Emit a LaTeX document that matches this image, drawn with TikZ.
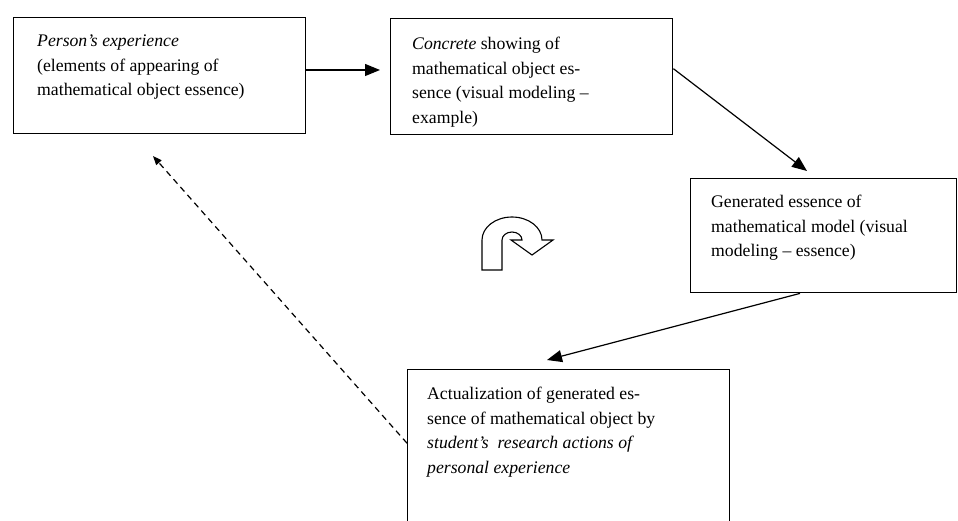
\documentclass[tikz,border=0pt]{standalone}
\usepackage{fontspec}
\setmainfont{Liberation Serif}
\usetikzlibrary{arrows.meta}
\begin{document}
\begin{tikzpicture}[x=1pt,y=-1pt,
    box/.style={draw,line width=1.4pt,anchor=north west,inner sep=0pt},
    txt/.style={anchor=north west,inner sep=0pt,align=left,font=\fontsize{17.7}{24.5}\selectfont},
    arr/.style={line width=1.2pt,-{Triangle[length=15pt,width=12pt]}},
    back/.style={line width=1.2pt,dash pattern=on 6pt off 4.5pt,-{Triangle[length=9pt,width=7pt]}}]
    \useasboundingbox (0,0) rectangle (958,521);
    % boxes
    \node[box,minimum width=292pt,minimum height=116pt] (b1) at (13,17) {};
    \node[box,minimum width=282pt,minimum height=116pt] (b2) at (390,18) {};
    \node[box,minimum width=266pt,minimum height=114pt] (b3) at (690,178) {};
    \node[box,minimum width=322pt,minimum height=175pt] (b4) at (407,369) {};
    \node[txt] (t1) at ([shift={(24pt,-18pt)}]b1.north west) {\textit{Person’s experience}\\(elements of appearing of\\mathematical object essence)};
    \node[txt] (t2) at ([shift={(22pt,-19pt)}]b2.north west) {\textit{Concrete} showing of\\mathematical object es-\\sence (visual modeling --\\example)};
    \node[txt] (t3) at ([shift={(21pt,-17pt)}]b3.north west) {Generated essence of\\mathematical model (visual\\modeling -- essence)};
    \node[txt] (t4) at ([shift={(20pt,-18pt)}]b4.north west) {Actualization of generated es-\\sence of mathematical object by\\\textit{student’s\ \ research actions of}\\\textit{personal experience}};
    % arrows
    \coordinate (e1) at (380,70);
    \coordinate (e2) at (807,171);
    \coordinate (e3) at (547,360);
    \coordinate (e4) at (153,156);
    \draw[arr] (b1.east |- e1) -- (e1);
    \draw[arr] ([yshift=8pt]b2.east) -- (e2);
    \draw[arr] ([xshift=110pt]b3.south west) -- (e3);
    \draw[back] ([yshift=14pt]b4.west) -- (e4);
    % u-turn
    \draw[line width=1.1pt,fill=white] (482,270) -- (482,240)
      arc[start angle=180,end angle=360,x radius=30,y radius=23] -- (553,240) -- (532,255) -- (511,240) -- (522,240)
      arc[start angle=360,end angle=180,x radius=10,y radius=8] -- (502,270) -- cycle;
\end{tikzpicture}
\end{document}
